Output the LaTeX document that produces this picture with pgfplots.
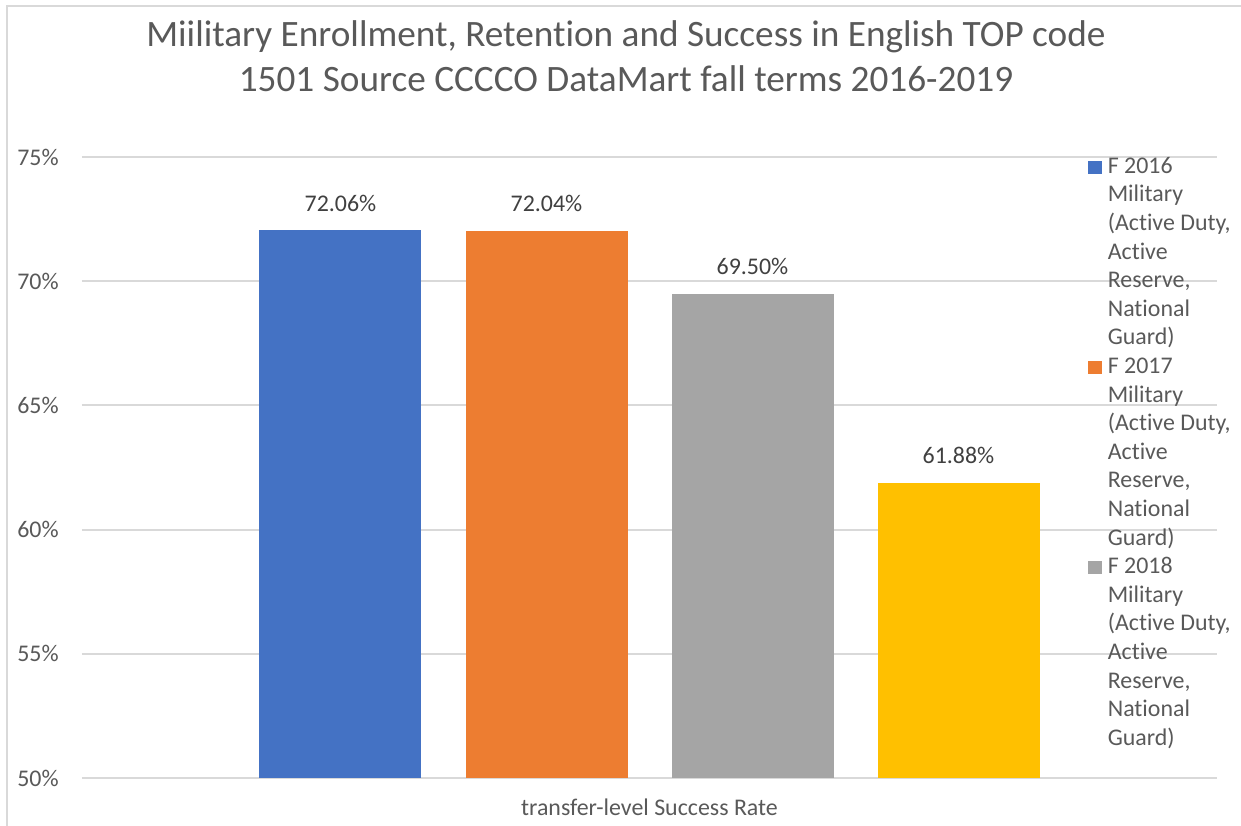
\documentclass[border=0pt]{standalone}
\usepackage{fontspec}
\setmainfont{Carlito}[Ligatures=NoCommon]
\usepackage{pgfplots}
\pgfplotsset{compat=1.18}
\definecolor{c16}{HTML}{4472C4}
\definecolor{c17}{HTML}{ED7D31}
\definecolor{c18}{HTML}{A5A5A5}
\definecolor{c19}{HTML}{FFC000}
\definecolor{txt}{HTML}{595959}
\definecolor{lbl}{HTML}{404040}
\definecolor{gridc}{HTML}{D9D9D9}
\newcommand\smallf{\fontsize{13.6}{16.27}\selectfont}
\pgfplotsset{sqlegend/.style={legend image code/.code={\fill[##1] (0cm,-0.01cm) rectangle (0.27cm,0.25cm);}}}
\begin{document}
\begin{tikzpicture}
\useasboundingbox (0,0) rectangle (24.82,16.52);
\draw[gridc, line width=0.04cm] (0.14,0) -- (0.14,16.40) -- (24.9,16.40);
\node[anchor=base, text=txt, font=\fontsize{21.2}{25.5}\selectfont, inner sep=0pt] at (12.52,15.58)
  {Miilitary Enrollment, Retention and Success in English TOP code};
\node[anchor=base, text=txt, font=\fontsize{21.2}{25.5}\selectfont, inner sep=0pt] at (12.52,14.68)
  {1501 Source CCCCO DataMart fall terms 2016-2019};
\begin{axis}[
  at={(1.64cm,0.96cm)}, anchor=south west,
  scale only axis, width=22.70cm, height=12.42cm,
  ybar=0.88cm, bar width=3.24cm,
  xmin=-0.5, xmax=0.5, ymin=50, ymax=75,
  xtick={0}, xticklabels={transfer-level Success Rate},
  ytick={50,55,60,65,70,75},
  yticklabel={\pgfmathprintnumber{\tick}\%},
  /pgf/number format/assume math mode=true,
  axis line style={draw=none}, major tick length=0pt,
  ymajorgrids, grid style={gridc, line width=0.04cm},
  tick label style={font=\smallf, text=txt},
  yticklabel style={inner sep=0pt, anchor=east, xshift=-0.46cm},
  xticklabel style={inner sep=0pt, anchor=base, yshift=-0.76cm},
  nodes near coords={\pgfmathprintnumber[fixed,fixed zerofill,precision=2]{\pgfplotspointmeta}\%},
  every node near coord/.append style={font=\smallf, text=lbl, inner sep=0pt, anchor=base, yshift=0.38cm},
  legend style={at={(0.8863,1.0064)}, anchor=north west, draw=none, fill=none,
    inner sep=0pt, row sep=0pt, column sep=0.12cm,
    nodes={inner sep=0pt, text depth=, font=\smallf, text=txt},
    cells={anchor=base west}},
]
\addplot[fill=c16, draw=none, sqlegend] coordinates {(0,72.06)};
\addlegendentry{\begin{tabular}[t]{@{}l@{}}F 2016\\Military\\(Active Duty,\\Active\\Reserve,\\National\\Guard)\end{tabular}}
\addplot[fill=c17, draw=none, sqlegend] coordinates {(0,72.04)};
\addlegendentry{\begin{tabular}[t]{@{}l@{}}F 2017\\Military\\(Active Duty,\\Active\\Reserve,\\National\\Guard)\end{tabular}}
\addplot[fill=c18, draw=none, sqlegend] coordinates {(0,69.50)};
\addlegendentry{\begin{tabular}[t]{@{}l@{}}F 2018\\Military\\(Active Duty,\\Active\\Reserve,\\National\\Guard)\end{tabular}}
\addplot[fill=c19, draw=none, sqlegend] coordinates {(0,61.88)};
\end{axis}
\end{tikzpicture}
\end{document}
